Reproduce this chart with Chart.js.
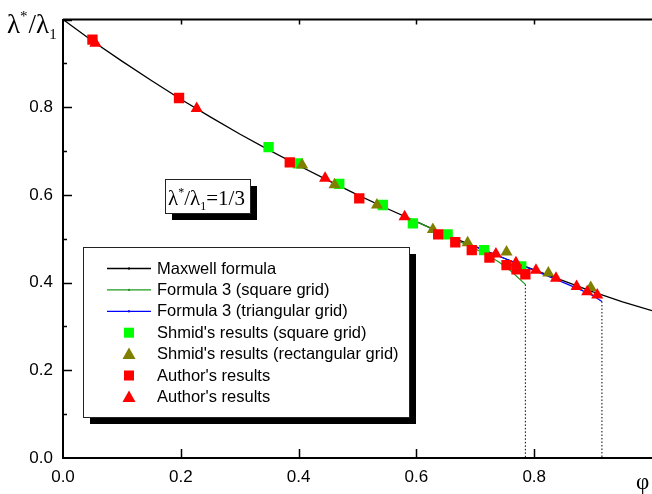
<!DOCTYPE html>
<html>
<head>
<meta charset="utf-8">
<script src="https://cdn.jsdelivr.net/npm/chart.js@4"></script>
<style>
  body { margin: 0; background: #fff; }
  #wrap { width: 652px; height: 494px; }
</style>
</head>
<body>
<div id="wrap"><canvas id="chart" width="652" height="494"></canvas></div>
<script>
// Maxwell curve
const maxwellPhi = [0, 0.05, 0.1, 0.15, 0.2, 0.25, 0.3, 0.35, 0.4, 0.45, 0.5, 0.55, 0.6, 0.65, 0.7, 0.75, 0.8, 0.85, 0.9, 0.95, 1.0];
const maxwellVal = [1.0, 0.951, 0.905, 0.861, 0.818, 0.778, 0.739, 0.702, 0.667, 0.633, 0.600, 0.569, 0.539, 0.509, 0.482, 0.455, 0.429, 0.404, 0.379, 0.356, 0.336];

// Formula 3, square grid (green) and triangular grid (blue)
const squareGridPhi = [0.6, 0.65, 0.7, 0.72, 0.74, 0.76, 0.785];
const squareGridVal = [0.539, 0.508, 0.477, 0.463, 0.447, 0.427, 0.396];
const triGridPhi = [0.7, 0.75, 0.8, 0.85, 0.88, 0.9, 0.915];
const triGridVal = [0.482, 0.455, 0.428, 0.400, 0.383, 0.370, 0.357];

// packing limits (dotted drop lines)
const limitPhi = [0.785, 0.915];
const limitVal = [0.396, 0.357];

// Shmid's results
const shmidSquarePhi = [0.349, 0.399, 0.469, 0.543, 0.594, 0.653, 0.715, 0.778];
const shmidSquareVal = [0.709, 0.672, 0.625, 0.577, 0.535, 0.510, 0.474, 0.437];
const shmidRectPhi = [0.406, 0.461, 0.533, 0.628, 0.687, 0.753, 0.824, 0.896];
const shmidRectVal = [0.668, 0.623, 0.577, 0.521, 0.491, 0.470, 0.422, 0.389];

// Author's results
const authorSquarePhi = [0.050, 0.197, 0.385, 0.503, 0.637, 0.666, 0.694, 0.724, 0.753, 0.770, 0.785];
const authorSquareVal = [0.954, 0.821, 0.674, 0.592, 0.510, 0.492, 0.474, 0.457, 0.440, 0.430, 0.419];
const authorTriPhi = [0.055, 0.227, 0.445, 0.580, 0.735, 0.769, 0.803, 0.837, 0.872, 0.890, 0.907];
const authorTriVal = [0.946, 0.797, 0.638, 0.550, 0.465, 0.445, 0.428, 0.410, 0.391, 0.379, 0.372];

const xTicks = [0, 0.2, 0.4, 0.6, 0.8];
const yTicks = [0, 0.2, 0.4, 0.6, 0.8];

const SANS = "'Liberation Sans', Arial, sans-serif";
const SERIF = "'Liberation Serif', 'Times New Roman', serif";

const pts = (xs, ys) => xs.map((x, i) => ({ x: x, y: ys[i] }));

const lineSet = (label, xs, ys, color, order) => ({
  type: 'line', label: label, data: pts(xs, ys), inLegend: true,
  borderColor: color, backgroundColor: color, borderWidth: 1.3,
  pointRadius: 0, fill: false, tension: 0, order: order
});

const markSet = (label, xs, ys, color, style, radius, order) => ({
  type: 'scatter', label: label, data: pts(xs, ys), inLegend: true,
  pointStyle: style, pointRadius: radius, pointHoverRadius: radius,
  backgroundColor: color, borderColor: color, borderWidth: 0, order: order
});

const datasets = [
  lineSet('Maxwell formula', maxwellPhi, maxwellVal, '#000000', 9),
  lineSet('Formula 3 (square grid)', squareGridPhi, squareGridVal, '#1f9a1f', 8),
  lineSet('Formula 3 (triangular grid)', triGridPhi, triGridVal, '#0000ff', 7),
  markSet("Shmid's results (square grid)", shmidSquarePhi, shmidSquareVal, '#00ff00', 'rect', 7.3, 5),
  markSet("Shmid's results (rectangular grid)", shmidRectPhi, shmidRectVal, '#808000', 'triangle', 7, 4),
  markSet("Author's results", authorSquarePhi, authorSquareVal, '#ff0000', 'rect', 7.3, 3),
  markSet("Author's results", authorTriPhi, authorTriVal, '#ff0000', 'triangle', 7, 2)
];
limitPhi.forEach((p, i) => {
  datasets.push({
    type: 'line', label: '', inLegend: false,
    data: [{ x: p, y: limitVal[i] }, { x: p, y: 0 }],
    borderColor: '#000', borderWidth: 1, borderDash: [1.5, 2],
    pointRadius: 0, fill: false, order: 10
  });
});

function richText(ctx, parts, x, y) {
  parts.forEach(p => {
    ctx.font = p.size + 'px ' + SERIF;
    ctx.fillText(p.t, x, y + (p.dy || 0));
    x += ctx.measureText(p.t).width + (p.gap || 0);
  });
}

function shadowBox(ctx, x, y, w, h, off) {
  ctx.fillStyle = '#000';
  ctx.fillRect(x + off, y + off, w, h);
  ctx.fillStyle = '#fff';
  ctx.fillRect(x, y, w, h);
  ctx.strokeStyle = '#222';
  ctx.lineWidth = 1;
  ctx.strokeRect(x + 0.5, y + 0.5, w, h);
}

const decor = {
  id: 'decor',
  afterDraw(chart) {
    const ctx = chart.ctx;
    const a = chart.chartArea;
    const xs = chart.scales.x, ys = chart.scales.y;
    ctx.save();

    // top frame and inward ticks
    ctx.strokeStyle = '#000';
    ctx.lineWidth = 2;
    ctx.beginPath();
    ctx.moveTo(a.left, a.top); ctx.lineTo(a.right, a.top);
    ctx.stroke();
    ctx.lineWidth = 1.5;
    ctx.beginPath();
    [0.2, 0.4, 0.6, 0.8].forEach(v => {
      const px = Math.round(xs.getPixelForValue(v)) + 0.5;
      ctx.moveTo(px, a.bottom); ctx.lineTo(px, a.bottom - 9);
      ctx.moveTo(px, a.top); ctx.lineTo(px, a.top + 5);
    });
    for (let v = 0.1; v < 1.0; v += 0.1) {
      const py = Math.round(ys.getPixelForValue(v)) + 0.5;
      const major = Math.abs(v * 5 - Math.round(v * 5)) < 1e-6;
      ctx.moveTo(a.left, py); ctx.lineTo(a.left + (major ? 9 : 4), py);
    }
    ctx.stroke();

    // legend
    const lx = 83, ly = 247, lw = 326, lh = 170;
    shadowBox(ctx, lx, ly, lw, lh, 7);
    let row = 0;
    ctx.textBaseline = 'middle';
    chart.data.datasets.forEach(ds => {
      if (!ds.inLegend) return;
      const cy = 268.5 + row * 21.4;
      const cx = 129;
      ctx.fillStyle = ds.backgroundColor;
      ctx.strokeStyle = ds.borderColor;
      if (ds.type === 'line') {
        ctx.lineWidth = 1.3;
        ctx.beginPath();
        ctx.moveTo(107, cy); ctx.lineTo(151, cy);
        ctx.stroke();
        ctx.fillRect(cx - 1, cy - 1, 2, 2);
      } else if (ds.pointStyle === 'rect') {
        ctx.fillRect(cx - 5, cy - 5, 10, 10);
      } else {
        ctx.beginPath();
        ctx.moveTo(cx, cy - 6.5);
        ctx.lineTo(cx + 6.5, cy + 5);
        ctx.lineTo(cx - 6.5, cy + 5);
        ctx.closePath();
        ctx.fill();
      }
      ctx.fillStyle = '#000';
      ctx.font = '16.5px ' + SANS;
      ctx.fillText(ds.label, 157, cy + 0.5);
      row++;
    });

    // ratio annotation
    shadowBox(ctx, 165, 179, 85, 34, 7);
    ctx.fillStyle = '#000';
    ctx.textBaseline = 'alphabetic';
    richText(ctx, [
      { t: 'λ', size: 21 }, { t: '*', size: 12, dy: -9 },
      { t: '/λ', size: 21 }, { t: '1', size: 12, dy: 5 },
      { t: '=1/3', size: 21 }
    ], 168, 205);

    // axis titles
    richText(ctx, [
      { t: 'λ', size: 27 }, { t: '*', size: 15, dy: -12, gap: 1 },
      { t: '/λ', size: 27 }, { t: '1', size: 15, dy: 6 }
    ], 7, 33);
    ctx.font = '23px ' + SERIF;
    ctx.fillText('φ', 636, 489);

    ctx.restore();
  }
};

new Chart(document.getElementById('chart'), {
  data: { datasets: datasets },
  options: {
    responsive: false,
    animation: false,
    devicePixelRatio: 1,
    layout: { autoPadding: false, padding: { top: 19.5, right: 0, left: 0, bottom: 0 } },
    plugins: { legend: { display: false }, tooltip: { enabled: false } },
    scales: {
      x: {
        type: 'linear', min: 0, max: 1.0,
        afterFit: s => { s.height = 36; s.paddingLeft = 0; s.paddingRight = 0; },
        afterBuildTicks: s => { s.ticks = xTicks.map(v => ({ value: v })); },
        grid: { display: false, drawTicks: false },
        border: { display: true, color: '#000', width: 2 },
        ticks: {
          padding: 9, color: '#000', maxRotation: 0,
          font: { family: SANS, size: 17 },
          callback: v => Number(v).toFixed(1)
        }
      },
      y: {
        type: 'linear', min: 0, max: 1.0,
        afterFit: s => { s.width = 63; s.paddingTop = 0; s.paddingBottom = 0; },
        afterBuildTicks: s => { s.ticks = yTicks.map(v => ({ value: v })); },
        grid: { display: false, drawTicks: false },
        border: { display: true, color: '#000', width: 2 },
        ticks: {
          padding: 10, color: '#000',
          font: { family: SANS, size: 17 },
          callback: v => Number(v).toFixed(1)
        }
      }
    }
  },
  plugins: [decor]
});
</script>
</body>
</html>
